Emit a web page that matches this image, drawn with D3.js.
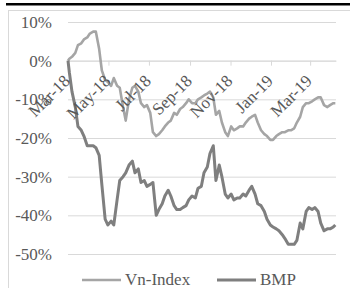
<!DOCTYPE html>
<html>
<head>
<meta charset="utf-8">
<script src="https://cdn.jsdelivr.net/npm/d3@7"></script>
<style>
  html, body { margin: 0; padding: 0; background: #fff; }
  svg { display: block; }
  svg text { font-family: "Liberation Serif", "Times New Roman", "DejaVu Serif", serif !important; fill: #595959; }
</style>
</head>
<body>
<svg id="chart" width="350" height="288"></svg>
<script>
// ---- data ----
const dates = [
  "2018-03-01","2018-03-03","2018-03-07","2018-03-12","2018-03-16","2018-03-21","2018-03-25","2018-03-30",
  "2018-04-03","2018-04-08","2018-04-12","2018-04-17","2018-04-21","2018-04-26","2018-04-30",
  "2018-05-05","2018-05-09","2018-05-14","2018-05-18","2018-05-23","2018-05-27",
  "2018-06-01","2018-06-06","2018-06-10","2018-06-15","2018-06-19","2018-06-24","2018-06-28",
  "2018-07-03","2018-07-07","2018-07-12","2018-07-16","2018-07-21","2018-07-25","2018-07-30",
  "2018-08-03","2018-08-08","2018-08-12","2018-08-17","2018-08-21","2018-08-26","2018-08-30",
  "2018-09-04","2018-09-09","2018-09-13","2018-09-18","2018-09-22","2018-09-27",
  "2018-10-01","2018-10-06","2018-10-10","2018-10-15","2018-10-19","2018-10-24","2018-10-28",
  "2018-11-02","2018-11-06","2018-11-11","2018-11-15","2018-11-20","2018-11-24","2018-11-29",
  "2018-12-03","2018-12-08","2018-12-12","2018-12-17","2018-12-22","2018-12-26","2018-12-31",
  "2019-01-04","2019-01-09","2019-01-13","2019-01-18","2019-01-22","2019-01-27","2019-01-31",
  "2019-02-05","2019-02-09","2019-02-14","2019-02-18","2019-02-23","2019-02-27",
  "2019-03-04","2019-03-08","2019-03-13","2019-03-17","2019-03-22","2019-03-27","2019-03-31",
  "2019-04-05","2019-04-08"
];
const vnIndex = [
  0, 0.5, 1, 2, 4, 4.5, 5.5, 6,
  7, 7.5, 7.5, 3, -2.5, -5, -5.5,
  -6.5, -4.5, -6.5, -7, -12, -15.5,
  -10, -7, -6.5, -8, -11, -12, -11.5,
  -13.5, -18.5, -19.5, -19, -18, -17, -16,
  -15.5, -13.5, -14, -12.5, -12, -11, -10,
  -11, -11, -10, -9.5, -9, -8.5,
  -8, -9.5, -14, -13, -16, -18.5, -19.5,
  -17, -18, -17.5, -17, -17, -16, -15,
  -14.5, -14, -16, -18, -19, -19.5, -20.5,
  -20.5, -19.5, -19, -18.5, -18.5, -18, -18,
  -17.5, -16, -14.5, -12, -11, -11,
  -10.5, -10, -9.5, -9.5, -11.5, -12, -11.5,
  -11, -11
];
const bmp = [
  0, -3, -8, -12, -17, -18, -19.5, -22,
  -22, -22, -22.5, -24.5, -32, -41, -42.5,
  -41.5, -42.5, -36, -31, -30, -29,
  -27, -26, -29, -28, -31.5, -31, -32.5,
  -32, -31.5, -40, -38.5, -37, -35, -33.5,
  -35, -37.5, -38.5, -38.5, -38, -37.5, -36,
  -35, -35.5, -33, -32.5, -29, -27.5,
  -24, -22, -31, -27, -30, -34.5, -35.5,
  -34.5, -36, -35.5, -35.5, -34.5, -35, -33.5,
  -32.5, -34.5, -37, -37.5, -39, -41, -42.5,
  -43, -43.5, -44, -45, -46, -47.5, -47.5,
  -47.5, -46.5, -42, -43.5, -39, -38,
  -38.5, -38, -39, -42, -44, -43.5, -43.5,
  -43, -42.5
];
const seriesNames = ["Vn-Index", "BMP"];
const seriesColors = ["#a5a5a5", "#7f7f7f"];
const yTicks = [10, 0, -10, -20, -30, -40, -50];
const xTickDates = ["2018-03-01","2018-05-01","2018-07-01","2018-09-01","2018-11-01","2019-01-01","2019-03-01"];
const xTickLabels = ["Mar-18","May-18","Jul-18","Sep-18","Nov-18","Jan-19","Mar-19"];

// ---- layout ----
const FONT = "'Liberation Serif', 'Times New Roman', serif";
const parse = d3.timeParse("%Y-%m-%d");
const svg = d3.select("#chart");
const plotL = 68, plotR = 336, plotT = 22, plotB = 254;

const x = d3.scaleTime()
  .domain([parse("2018-03-01"), parse("2019-04-09")])
  .range([plotL, plotR]);
const y = d3.scaleLinear().domain([-50, 10]).range([plotB, plotT]);

// outer chart frame and top black rule
svg.append("rect").attr("x", 8.5).attr("y", 10.5).attr("width", 360).attr("height", 300)
  .attr("fill", "none").attr("stroke", "#d9d9d9").attr("stroke-width", 1);
svg.append("rect").attr("x", 6).attr("y", 3).attr("width", 344).attr("height", 2.5).attr("fill", "#000");

// y gridlines + labels
const yAxis = d3.axisLeft(y).tickValues(yTicks).tickSize(-(plotR - plotL)).tickPadding(16)
  .tickFormat(d => d + "%");
const gy = svg.append("g").attr("transform", `translate(${plotL},0)`).call(yAxis)
  .attr("font-family", FONT);
gy.select(".domain").remove();
gy.selectAll(".tick line").attr("stroke", "#d9d9d9").attr("stroke-width", 1);
gy.selectAll(".tick text").attr("font-size", 17).attr("fill", "#595959")
  .style("font-family", FONT);

// x axis on the 0% line
const xAxis = d3.axisBottom(x).tickValues(xTickDates.map(parse)).tickSizeInner(5).tickSizeOuter(0)
  .tickFormat(() => "");
const gx = svg.append("g").attr("transform", `translate(0,${y(0)})`).call(xAxis);
gx.select(".domain").attr("stroke", "#d9d9d9");
gx.selectAll(".tick line").attr("stroke", "#d9d9d9");
gx.selectAll(".tick text").remove();

// lines
const line = d3.line().x(d => x(d.date)).y(d => y(d.v));
[vnIndex, bmp].forEach((vals, i) => {
  const data = vals.map((v, j) => ({ date: parse(dates[j]), v }));
  svg.append("path").datum(data)
    .attr("fill", "none")
    .attr("stroke", seriesColors[i])
    .attr("stroke-width", i === 0 ? 2.6 : 3)
    .attr("stroke-linejoin", "round")
    .attr("d", line);
});

// rotated x labels
svg.append("g").selectAll("text").data(xTickDates).join("text")
  .attr("transform", d => `translate(${x(parse(d)) + 3},82) rotate(-45)`)
  .attr("text-anchor", "end")
  .attr("font-size", 17)
  .style("font-family", FONT)
  .text((d, i) => xTickLabels[i]);

// legend
const legendX = [82, 217];
seriesNames.forEach((name, i) => {
  const g = svg.append("g");
  g.append("line").attr("x1", legendX[i]).attr("x2", legendX[i] + 39)
    .attr("y1", 280).attr("y2", 280)
    .attr("stroke", seriesColors[i]).attr("stroke-width", i === 0 ? 2.6 : 3);
  g.append("text").attr("x", legendX[i] + 43).attr("y", 285)
    .attr("font-size", 17).style("font-family", FONT).text(name);
});
</script>
</body>
</html>
